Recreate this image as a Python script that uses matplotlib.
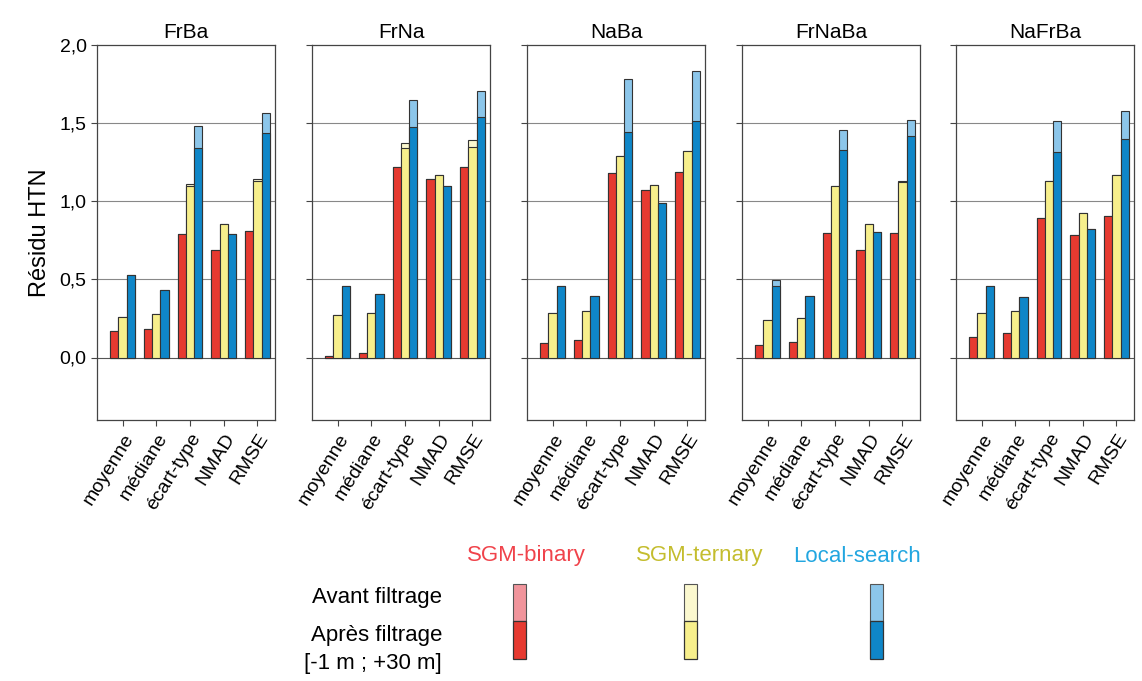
import numpy as np
import matplotlib
matplotlib.use('Agg')
import matplotlib.pyplot as plt
from matplotlib.patches import Rectangle

plt.rcParams['font.family'] = ['Liberation Sans', 'DejaVu Sans']

# Données
panneaux = ['FrBa', 'FrNa', 'NaBa', 'FrNaBa', 'NaFrBa']
stats = ['moyenne', 'médiane', 'écart-type', 'NMAD', 'RMSE']

# après filtrage [-1 m ; +30 m]
binary_apres = [
    [0.17, 0.18, 0.79, 0.685, 0.81],
    [0.01, 0.03, 1.22, 1.14, 1.22],
    [0.09, 0.11, 1.18, 1.07, 1.19],
    [0.08, 0.10, 0.80, 0.69, 0.80],
    [0.13, 0.155, 0.89, 0.785, 0.905],
]
ternary_apres = [
    [0.26, 0.28, 1.10, 0.855, 1.13],
    [0.27, 0.285, 1.34, 1.17, 1.35],
    [0.285, 0.295, 1.29, 1.105, 1.32],
    [0.24, 0.25, 1.10, 0.855, 1.125],
    [0.285, 0.295, 1.13, 0.925, 1.17],
]
local_apres = [
    [0.53, 0.43, 1.34, 0.79, 1.435],
    [0.46, 0.405, 1.475, 1.095, 1.54],
    [0.455, 0.395, 1.445, 0.99, 1.515],
    [0.455, 0.395, 1.325, 0.805, 1.415],
    [0.46, 0.385, 1.315, 0.82, 1.40],
]
# avant filtrage
binary_avant = binary_apres
ternary_avant = [
    [0.26, 0.28, 1.11, 0.855, 1.14],
    [0.27, 0.285, 1.375, 1.17, 1.395],
    [0.285, 0.295, 1.29, 1.105, 1.32],
    [0.24, 0.25, 1.10, 0.855, 1.13],
    [0.285, 0.295, 1.13, 0.925, 1.17],
]
local_avant = [
    [0.53, 0.43, 1.48, 0.79, 1.565],
    [0.46, 0.405, 1.645, 1.095, 1.705],
    [0.455, 0.395, 1.78, 0.99, 1.835],
    [0.495, 0.395, 1.455, 0.805, 1.52],
    [0.46, 0.385, 1.515, 0.82, 1.575],
]

couleurs = ['#e63a30', '#f7ef8c', '#0f86c8']
couleurs_avant = ['#f1959c', '#fbf8cf', '#8cc6ea']
couleurs_txt = ['#f0434b', '#c4bd2e', '#22a6e0']
methodes = ['SGM-binary', 'SGM-ternary', 'Local-search']

W, H = 1142, 681
fig = plt.figure(figsize=(W / 100, H / 100), dpi=100)

gauche = [97, 312, 527, 742, 956]
larg = 178
haut, bas = 45, 420
w = 0.245
x = np.arange(len(stats))

for k, nom in enumerate(panneaux):
    ax = fig.add_axes([gauche[k] / W, 1 - bas / H, larg / W, (bas - haut) / H])
    series_av = [binary_avant[k], ternary_avant[k], local_avant[k]]
    series_ap = [binary_apres[k], ternary_apres[k], local_apres[k]]
    for j in range(3):
        pos = x + (j - 1.5) * w + w / 2
        ax.bar(pos, series_av[j], width=w, color=couleurs_avant[j], edgecolor='#333333',
               linewidth=0.8, zorder=2)
        ax.bar(pos, series_ap[j], width=w, color=couleurs[j], edgecolor='#333333',
               linewidth=0.8, zorder=3)
    for yv in [0.0, 0.5, 1.0, 1.5]:
        ax.axhline(yv, color='#555555' if yv == 0 else '#888888', lw=0.8, zorder=1)
    ax.set_ylim(-0.4, 2.0)
    ax.set_xlim(-0.76, 4.52)
    ax.set_yticks([0.0, 0.5, 1.0, 1.5, 2.0])
    ax.set_xticks(x)
    ax.set_xticklabels(stats, rotation=58, ha='right', rotation_mode='anchor', fontsize=14)
    ax.tick_params(axis='both', length=4, width=0.8, color='#444444')
    if k == 0:
        ax.set_yticklabels(['0,0', '0,5', '1,0', '1,5', '2,0'], fontsize=14)
        ax.set_ylabel('Résidu HTN', fontsize=17, labelpad=6)
    else:
        ax.set_yticklabels([])
    ax.set_title(nom, fontsize=15, pad=5)
    for s in ax.spines.values():
        s.set_color('#444444')
        s.set_linewidth(0.9)

# Légende
txt_x = [526, 700, 857]
rect_x = [513, 684, 870]
for j in range(3):
    fig.text(txt_x[j] / W, 1 - 556 / H, methodes[j], color=couleurs_txt[j],
             fontsize=16, ha='center', va='center')
    fig.patches.append(Rectangle((rect_x[j] / W, 1 - 621 / H), 13 / W, 37 / H,
                                 transform=fig.transFigure, facecolor=couleurs_avant[j],
                                 edgecolor='#555555', linewidth=0.8))
    fig.patches.append(Rectangle((rect_x[j] / W, 1 - 659 / H), 13 / W, 38 / H,
                                 transform=fig.transFigure, facecolor=couleurs[j],
                                 edgecolor='#333333', linewidth=0.9))

fig.text(442 / W, 1 - 597 / H, 'Avant filtrage', fontsize=16, ha='right', va='center')
fig.text(442 / W, 1 - 636 / H, 'Après filtrage', fontsize=16, ha='right', va='center')
fig.text(442 / W, 1 - 663 / H, '[-1 m ; +30 m]', fontsize=16, ha='right', va='center')

fig.savefig('out.png', dpi=100)
